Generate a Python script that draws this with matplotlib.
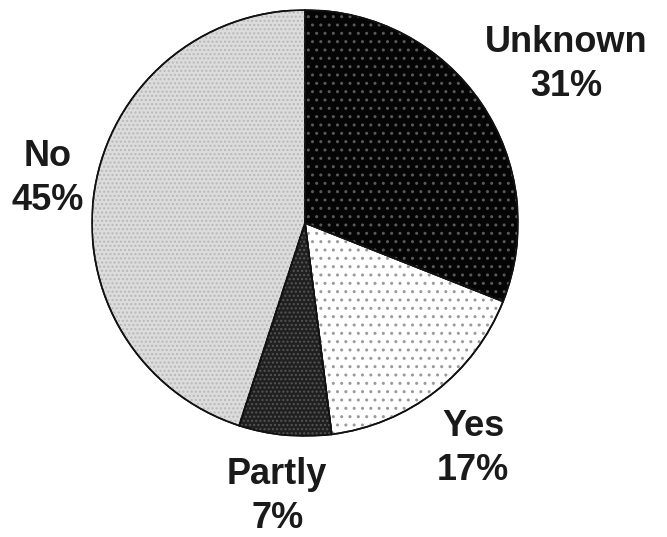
import matplotlib.pyplot as plt
from matplotlib.patches import Wedge

plt.rcParams['font.family'] = ['Liberation Sans', 'DejaVu Sans']

# Survey answer shares, clockwise from 12 o'clock
labels = ['Unknown', 'Yes', 'Partly', 'No']
shares = [31, 17, 7, 45]

# fill colour, dot colour, hatch for each slice
fills = ['#050505', '#ffffff', '#202020', '#dcdcdc']
dots = ['#5a5a5a', '#9a9a9a', '#555555', '#b8b8b8']
hatches = ['..', '..', '....', '....']

# where each label block sits (axes data units)
label_pos = [(1.225, 0.745), (0.79, -1.06), (-0.13, -1.285), (-1.21, 0.21)]

W, H = 667, 537
fig = plt.figure(figsize=(W / 100, H / 100), dpi=100)
cx, cy, r = 305, 223, 213
ax = fig.add_axes([(cx - r) / W, (H - cy - r) / H, 2 * r / W, 2 * r / H])
ax.axis('off')

wedges, _ = ax.pie(shares, startangle=90, counterclock=False, radius=1,
                   colors=fills,
                   wedgeprops=dict(edgecolor='#111111', linewidth=1.2))
ax.set_xlim(-1, 1)
ax.set_ylim(-1, 1)
ax.set_aspect('equal')

# dotted texture on top of every slice
for w, dc, h in zip(wedges, dots, hatches):
    overlay = Wedge(w.center, w.r, w.theta1, w.theta2, facecolor='none',
                    edgecolor=dc, hatch=h, linewidth=0)
    ax.add_patch(overlay)
    edge = Wedge(w.center, w.r, w.theta1, w.theta2, facecolor='none',
                 edgecolor='#111111', linewidth=1.2)
    ax.add_patch(edge)

for name, val, (x, y) in zip(labels, shares, label_pos):
    ax.text(x, y, f'{name}\n{val}%', ha='center', va='center',
            fontsize=26, fontweight='bold', color='#1a1a1a',
            linespacing=1.32, clip_on=False)

fig.savefig('out.png', dpi=100)
